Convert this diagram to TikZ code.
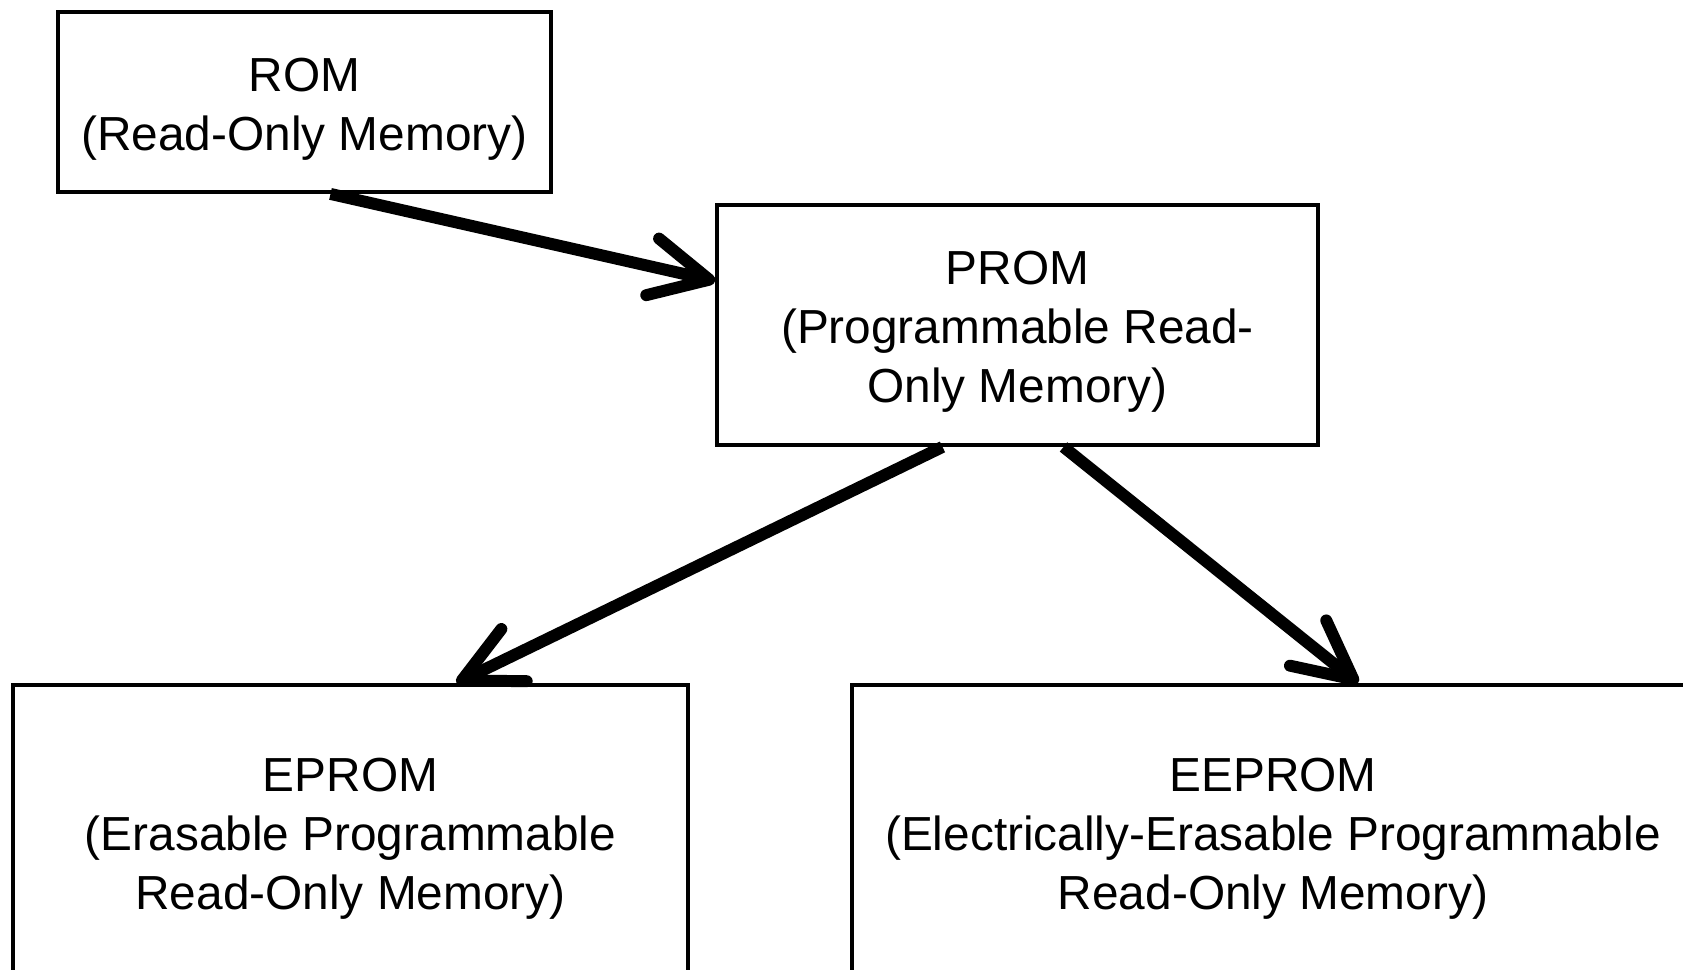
\documentclass[tikz,border=0pt]{standalone}
\usepackage{fontspec}
\setmainfont{Liberation Sans}
\usetikzlibrary{arrows.meta}

\newcommand\memstrut{\rule{0pt}{1.0em}}
\tikzset{
	membox/.style={draw,line width=1.1pt,align=center,inner sep=0pt,
		font=\fontsize{13.6}{16.8}\selectfont},
	memarrow/.style={line width=3.4pt,-{Straight Barb[length=5.8mm,width=5.8mm,round]}}
}

\begin{document}
\begin{tikzpicture}
		\useasboundingbox (0,0) rectangle (16.83,9.69);
		
		\node[membox,minimum width=4.93cm,minimum height=1.8cm] (rom) at (3.045,8.67) {\memstrut ROM\\(Read-Only Memory)};
		\node[membox,minimum width=6.01cm,minimum height=2.4cm] (prom) at (10.175,6.44) {\memstrut PROM\\(Programmable Read-\\Only Memory)};
		\node[membox,minimum width=6.75cm,minimum height=2.94cm] (eprom) at (3.505,1.37) {\memstrut EPROM\\(Erasable Programmable\\Read-Only Memory)};
		\node[membox,minimum width=8.42cm,minimum height=2.94cm] (eeprom) at (12.73,1.37) {\memstrut EEPROM\\(Electrically-Erasable Programmable\\Read-Only Memory)};
		
		\draw[memarrow] ([xshift=.26cm]rom.south)--([yshift=.44cm]prom.west);
		\draw[memarrow] ([xshift=-.75cm]prom.south)--([xshift=1.06cm]eprom.north);
		\draw[memarrow] ([xshift=.46cm]prom.south)--([xshift=.85cm]eeprom.north);
		
		\end{tikzpicture}
\end{document}
